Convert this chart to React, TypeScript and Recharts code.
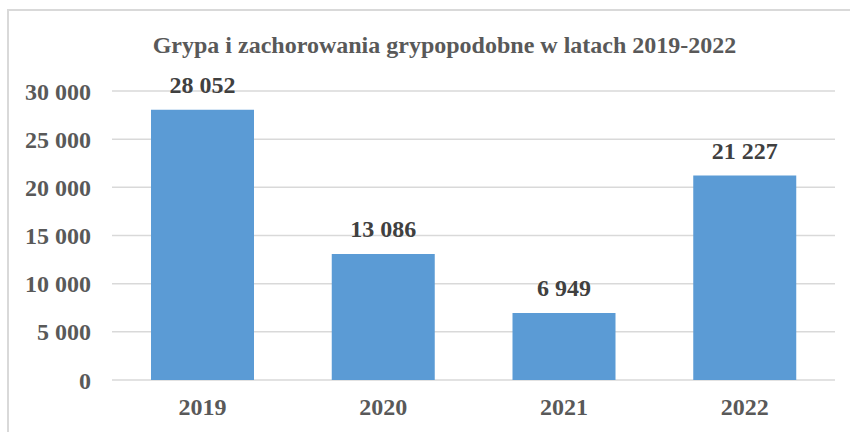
import { BarChart, Bar, XAxis, YAxis, CartesianGrid, LabelList } from "recharts";

const years = ["2019", "2020", "2021", "2022"];
const cases = [28052, 13086, 6949, 21227];
const yTicks = [0, 5000, 10000, 15000, 20000, 25000, 30000];

const chartTitle = "Grypa i zachorowania grypopodobne w latach 2019-2022";

const data = years.map((year, i) => ({ year, cases: cases[i] }));

const FONT = "'Liberation Serif', 'Times New Roman', serif";

// 28052 -> "28 052"
const fmt = (v: number | string) =>
  String(v).replace(/\B(?=(\d{3})+(?!\d))/g, " ");

export default function App() {
  return (
    <div
      style={{
        position: "absolute",
        left: 0,
        top: 0,
        width: 850,
        height: 432,
        overflow: "hidden",
        background: "#fff",
        fontFamily: FONT,
      }}
    >
      <div
        style={{
          position: "absolute",
          left: 7,
          top: 9,
          width: 900,
          height: 500,
          border: "2px solid #d9d9d9",
        }}
      />
      <BarChart
        width={850}
        height={432}
        data={data}
        margin={{ top: 91, right: 15, bottom: 0, left: 0 }}
        style={{ position: "absolute", left: 0, top: 0 }}
      >
        <text
          x={444.5}
          y={53}
          textAnchor="middle"
          fontFamily={FONT}
          fontWeight="bold"
          fontSize={24}
          fill="#595959"
        >
          {chartTitle}
        </text>
        <CartesianGrid vertical={false} stroke="#d9d9d9" strokeWidth={1.5} />
        <XAxis
          dataKey="year"
          height={52}
          axisLine={false}
          tickLine={false}
          tickSize={0}
          tickMargin={18}
          tick={{ fontFamily: FONT, fontWeight: "bold", fontSize: 24, fill: "#595959" }}
        />
        <YAxis
          width={112}
          domain={[0, 30000]}
          ticks={yTicks}
          axisLine={false}
          tickLine={false}
          tickSize={0}
          tickMargin={21}
          tickFormatter={fmt}
          tick={{ fontFamily: FONT, fontWeight: "bold", fontSize: 24, fill: "#595959" }}
        />
        <Bar dataKey="cases" fill="#5b9bd5" barSize={103} isAnimationActive={false}>
          <LabelList
            dataKey="cases"
            position="top"
            offset={17}
            formatter={fmt}
            style={{ fontFamily: FONT, fontWeight: "bold", fontSize: 24, fill: "#404040" }}
          />
        </Bar>
      </BarChart>
    </div>
  );
}
